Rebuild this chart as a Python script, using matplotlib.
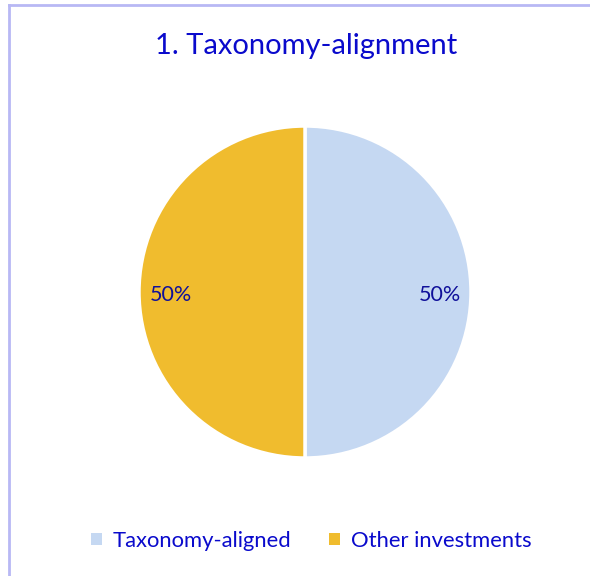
import matplotlib.pyplot as plt
from matplotlib.lines import Line2D
from matplotlib.patches import Patch

plt.rcParams["font.family"] = ["Lato", "DejaVu Sans"]

categories = ["Taxonomy-aligned", "Other investments"]
shares = [50, 50]
colors = ["#C5D8F2", "#F0BC2E"]
title = "1. Taxonomy-alignment"
text_blue = "#0A0ACC"
label_blue = "#10109A"

W, H = 590, 576
fig = plt.figure(figsize=(W / 100, H / 100), dpi=100)

# pie centre / radius in pixels
cx, cy, r = 305, 292, 166
ax = fig.add_axes([(cx - r) / W, (H - cy - r) / H, 2 * r / W, 2 * r / H])
wedges, texts, autotexts = ax.pie(
    shares,
    colors=colors,
    startangle=90,
    counterclock=False,
    autopct="%d%%",
    pctdistance=0.81,
    wedgeprops=dict(edgecolor="white", linewidth=2.5),
    textprops=dict(color=label_blue, fontsize=15.5),
)
for t in autotexts:
    x, y = t.get_position()
    t.set_position((x, y - 0.02))
ax.set_xlim(-1, 1)
ax.set_ylim(-1, 1)
ax.set_aspect("equal")
ax.axis("off")

fig.text(306 / W, 1 - 46 / H, title, ha="center", va="center",
         color=text_blue, fontsize=21)

# frame lines (top and left)
border = "#B8B8F4"
fig.add_artist(Line2D([8.5 / W, 1], [1 - 4.5 / H, 1 - 4.5 / H],
                      transform=fig.transFigure, color=border, lw=2))
fig.add_artist(Line2D([8.5 / W, 8.5 / W], [1 - 4.5 / H, 0],
                      transform=fig.transFigure, color=border, lw=2))

handles = [Patch(facecolor=c, edgecolor="none") for c in colors]
leg = fig.legend(handles, categories, loc="center", ncol=2,
                 bbox_to_anchor=(311 / W, 1 - 541 / H), frameon=False,
                 handlelength=0.5, handleheight=0.5, handletextpad=0.5,
                 columnspacing=1.7, fontsize=15.8)
for t in leg.get_texts():
    t.set_color(text_blue)

fig.savefig("out.png", dpi=100)
